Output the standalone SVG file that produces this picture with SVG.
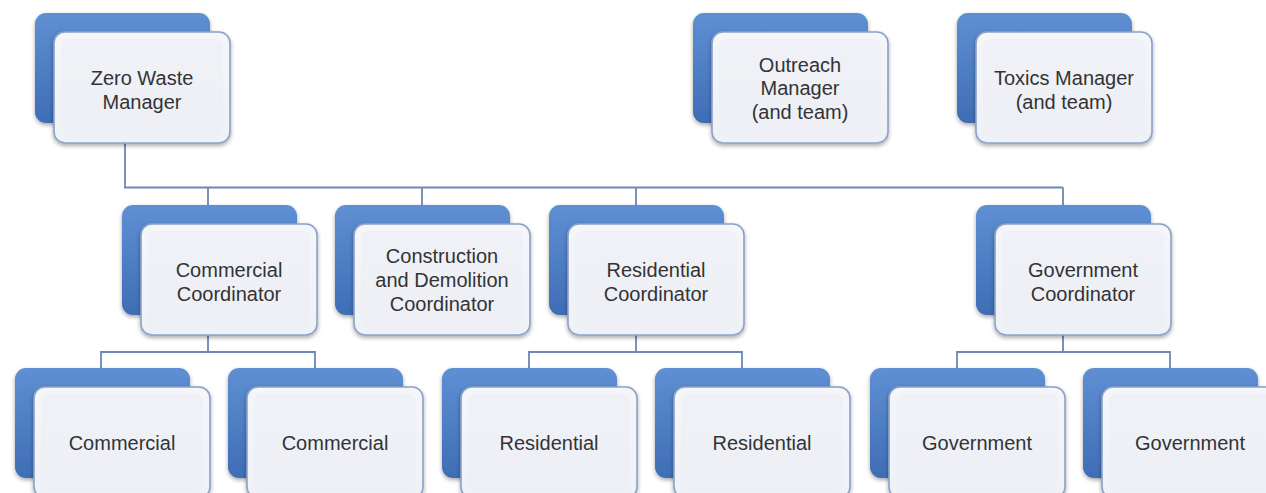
<svg xmlns="http://www.w3.org/2000/svg" width="1266" height="493" viewBox="0 0 1266 493">
  <defs>
    <linearGradient id="backFill" x1="0" y1="0" x2="0" y2="1">
      <stop offset="0" stop-color="#5f8fd3"/>
      <stop offset="1" stop-color="#3f6db5"/>
    </linearGradient>
    <linearGradient id="frontFill" x1="0" y1="0" x2="0" y2="1">
      <stop offset="0" stop-color="#f4f6fa"/>
      <stop offset="1" stop-color="#eef1f6"/>
    </linearGradient>
    <filter id="soft" x="-10%" y="-10%" width="125%" height="130%">
      <feGaussianBlur in="SourceAlpha" stdDeviation="2"/>
      <feOffset dx="0" dy="2" result="b"/>
      <feComponentTransfer><feFuncA type="linear" slope="0.35"/></feComponentTransfer>
      <feMerge><feMergeNode/><feMergeNode in="SourceGraphic"/></feMerge>
    </filter>
    <!-- one card: dark blue tab behind, pale rounded panel in front -->
    <g id="card">
      <rect x="0" y="0" width="175" height="110" rx="11" fill="url(#backFill)" filter="url(#soft)"/>
      <rect x="19" y="19" width="176" height="111" rx="11" fill="url(#frontFill)" stroke="#8aa1c8" stroke-width="1.6" filter="url(#soft)"/>
      <rect x="26" y="26" width="162" height="97" rx="8" fill="#eceff4" opacity="0.6"/>
    </g>
  </defs>
  <style>
    .lbl { font-family: "Liberation Sans", Arial, sans-serif; font-size: 20px; fill: #333335; text-anchor: middle; }
    .wire { fill: none; stroke: #6d86b7; stroke-width: 1.8; }
  </style>
  <rect width="1266" height="493" fill="#ffffff"/>

  <!-- reporting lines -->
  <g id="connectors" class="wire">
    <path d="M125 143 V187.5 H1063 M208 187.5 V205 M422 187.5 V205 M636 187.5 V205 M1063 187.5 V205"/>
    <path d="M208 335 V352 M101 368 V352 H315 V368"/>
    <path d="M636 335 V352 M529 368 V352 H742 V368"/>
    <path d="M1063 335 V352 M957 368 V352 H1170 V368"/>
  </g>

  <!-- top row -->
  <g id="zero-waste-manager">
    <use href="#card" x="35" y="13"/>
    <text class="lbl" x="142" y="85">Zero Waste</text>
    <text class="lbl" x="142" y="109">Manager</text>
  </g>
  <g id="outreach-manager">
    <use href="#card" x="693" y="13"/>
    <text class="lbl" x="800" y="71.5">Outreach</text>
    <text class="lbl" x="800" y="95">Manager</text>
    <text class="lbl" x="800" y="118.5">(and team)</text>
  </g>
  <g id="toxics-manager">
    <use href="#card" x="957" y="13"/>
    <text class="lbl" x="1064" y="85">Toxics Manager</text>
    <text class="lbl" x="1064" y="109">(and team)</text>
  </g>

  <!-- coordinators -->
  <g id="commercial-coordinator">
    <use href="#card" x="122" y="205"/>
    <text class="lbl" x="229" y="277">Commercial</text>
    <text class="lbl" x="229" y="301">Coordinator</text>
  </g>
  <g id="cd-coordinator">
    <use href="#card" x="335" y="205"/>
    <text class="lbl" x="442" y="263">Construction</text>
    <text class="lbl" x="442" y="287">and Demolition</text>
    <text class="lbl" x="442" y="311">Coordinator</text>
  </g>
  <g id="residential-coordinator">
    <use href="#card" x="549" y="205"/>
    <text class="lbl" x="656" y="277">Residential</text>
    <text class="lbl" x="656" y="301">Coordinator</text>
  </g>
  <g id="government-coordinator">
    <use href="#card" x="976" y="205"/>
    <text class="lbl" x="1083" y="277">Government</text>
    <text class="lbl" x="1083" y="301">Coordinator</text>
  </g>

  <!-- staff -->
  <g id="commercial-1">
    <use href="#card" x="15" y="368"/>
    <text class="lbl" x="122" y="450">Commercial</text>
  </g>
  <g id="commercial-2">
    <use href="#card" x="228" y="368"/>
    <text class="lbl" x="335" y="450">Commercial</text>
  </g>
  <g id="residential-1">
    <use href="#card" x="442" y="368"/>
    <text class="lbl" x="549" y="450">Residential</text>
  </g>
  <g id="residential-2">
    <use href="#card" x="655" y="368"/>
    <text class="lbl" x="762" y="450">Residential</text>
  </g>
  <g id="government-1">
    <use href="#card" x="870" y="368"/>
    <text class="lbl" x="977" y="450">Government</text>
  </g>
  <g id="government-2">
    <use href="#card" x="1083" y="368"/>
    <text class="lbl" x="1190" y="450">Government</text>
  </g>
</svg>
